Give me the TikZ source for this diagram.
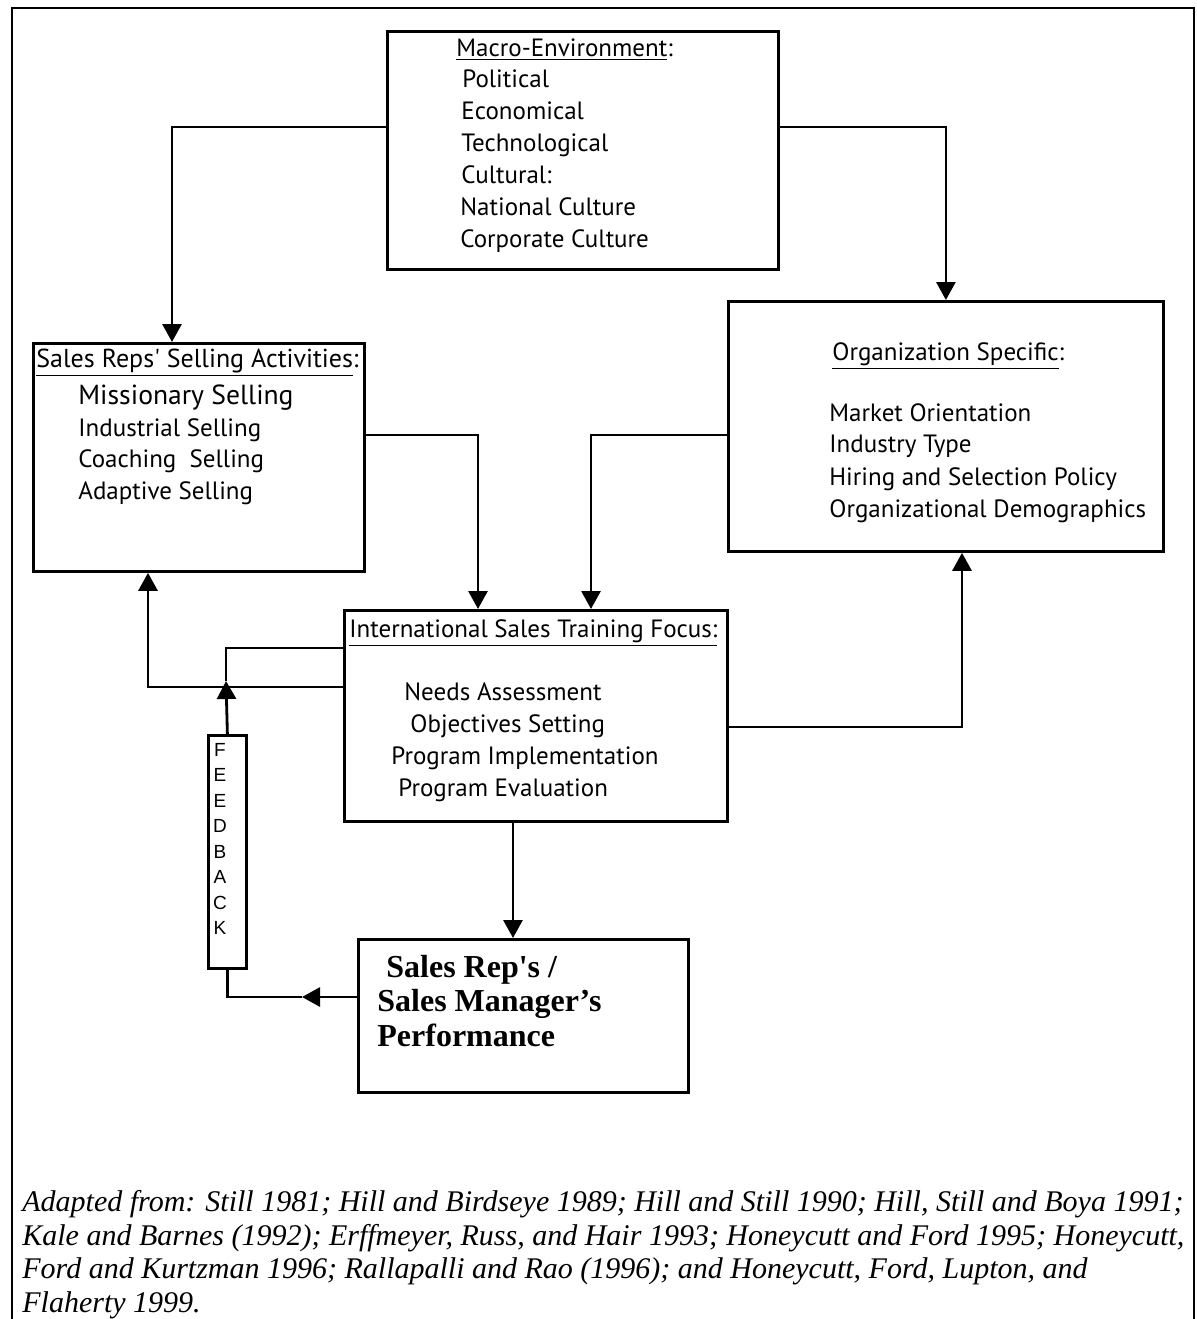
\documentclass[tikz,border=0pt]{standalone}
\usepackage{fontspec}
\setmainfont{Liberation Serif}
\newfontfamily\boxfont{PT Sans}
\newfontfamily\fbfont{Liberation Sans}
\usetikzlibrary{arrows.meta}

\begin{document}
\begin{tikzpicture}[x=0.5pt,y=-0.5pt,line width=1.4pt,
  box/.style={draw,line width=1.4pt,inner sep=0pt,anchor=north west},
  txt/.style={anchor=base west,inner sep=0pt,font=\boxfont\fontsize{12.5}{14}\selectfont},
  bigtxt/.style={txt,font=\boxfont\fontsize{13.8}{15}\selectfont},
  perftxt/.style={anchor=base west,inner sep=0pt,font=\bfseries\fontsize{16}{18}\selectfont},
  arr/.style={-{Triangle[length=9pt,width=9.5pt]}},
]
\useasboundingbox (0,0) rectangle (1196,1319);

% outer frame, open at the bottom
\draw (12,1319) -- (12,8) -- (1194,8) -- (1194,1319);

% boxes
\node[box,minimum width=195.5pt,minimum height=119pt] (macro) at (386,30) {};
\node[box,minimum width=165.5pt,minimum height=114pt] (sales) at (32,342) {};
\node[box,minimum width=217.5pt,minimum height=125pt] (org) at (727,300) {};
\node[box,minimum width=191.5pt,minimum height=105.5pt] (istf) at (343,609) {};
\node[box,minimum width=165pt,minimum height=76.5pt] (perf) at (357,938) {};
\node[box,minimum width=19pt,minimum height=116.5pt] (fb) at (207,734) {};

% macro-environment
\node[txt] (mt) at (455,56) {\underline{Macro-Environment}:};
\node[txt] (m1) at (461,87) {Political};
\node[txt] (m2) at (460,119) {Economical};
\node[txt] (m3) at (460,151) {Technological};
\node[txt] (m4) at (460,183) {Cultural:};
\node[txt] (m5) at (459,215) {National Culture};
\node[txt] (m6) at (459,247) {Corporate Culture};

% selling activities
\node[txt,font=\boxfont\fontsize{13}{14}\selectfont] (st) at (35,367) {\underline{Sales Reps\textquotesingle\ Selling Activities}:};
\node[bigtxt] (s1) at (77,404) {Missionary Selling};
\node[txt] (s2) at (77,436) {Industrial Selling};
\node[txt] (s3) at (77,467) {Coaching\ \ Selling};
\node[txt] (s4) at (77,499) {Adaptive Selling};

% organization specific
\node[txt] (ot) at (831,360) {\underline{Organization Specific}:};
\node[txt] (o1) at (828,421) {Market Orientation};
\node[txt] (o2) at (828,452) {Industry Type};
\node[txt] (o3) at (828,485) {Hiring and Selection Policy};
\node[txt] (o4) at (828,517) {Organizational Demographics};

% training focus
\node[txt] (it) at (348,637) {\underline{International Sales Training Focus:}};
\node[txt] (i1) at (403,700) {Needs Assessment};
\node[txt] (i2) at (409,732) {Objectives Setting};
\node[txt] (i3) at (390,764) {Program Implementation};
\node[txt] (i4) at (397,796) {Program Evaluation};

% performance
\node[perftxt] (p1) at (385,977) {Sales Rep\textquotesingle s /};
\node[perftxt] (p2) at (376,1011) {Sales Manager’s};
\node[perftxt] (p3) at (376,1046) {Performance};

% feedback label
\node[align=center,inner sep=0pt,font=\fbfont\fontsize{9.5}{12.75}\selectfont] (fbt) at (220,839)
  {F\\E\\E\\D\\B\\A\\C\\K};

% sources (base anchor sits on the last line)
\node[anchor=base west,inner sep=0pt,align=left,font=\itshape\fontsize{15}{16.75}\selectfont] (src) at (21,1312)
  {Adapted from: Still 1981; Hill and Birdseye 1989; Hill and Still 1990; Hill, Still and Boya 1991;\\
   Kale and Barnes (1992); Erffmeyer, Russ, and Hair 1993; Honeycutt and Ford 1995; Honeycutt,\\
   Ford and Kurtzman 1996; Rallapalli and Rao (1996); and Honeycutt, Ford, Lupton, and\\
   Flaherty 1999.};

% routing coordinates
\coordinate (yA) at (0,127);
\coordinate (xA) at (172,0);
\coordinate (yB) at (0,435);
\coordinate (xB) at (478,0);
\coordinate (xC) at (591,0);
\coordinate (yD) at (0,727);
\coordinate (xD) at (962,0);
\coordinate (yE) at (0,687);
\coordinate (xE) at (148,0);
\coordinate (xF) at (513,0);
\coordinate (yG) at (0,997);
\coordinate (tipG) at (302,997);
\coordinate (yH) at (0,648);
\coordinate (tipH) at (226,681);

% connectors
\draw[arr] (macro.west|-yA) -| (sales.north-|xA);
\draw[arr] (macro.east|-yA) -| (org.north);
\draw[arr] (sales.east|-yB) -| (istf.north-|xB);
\draw[arr] (org.west|-yB) -| (istf.north-|xC);
\draw[arr] (istf.east|-yD) -| (org.south-|xD);
\draw[arr] (istf.west|-yE) -| (sales.south-|xE);
\draw[arr] (istf.south-|xF) -- (perf.north-|xF);

% feedback loop
\draw[arr] (perf.west|-yG) -- (tipG);
\draw (tipG) -| (fb.south);
\draw[arr] (fb.north) -- (tipH);
\draw (tipH) |- (istf.west|-yH);
\end{tikzpicture}
\end{document}
